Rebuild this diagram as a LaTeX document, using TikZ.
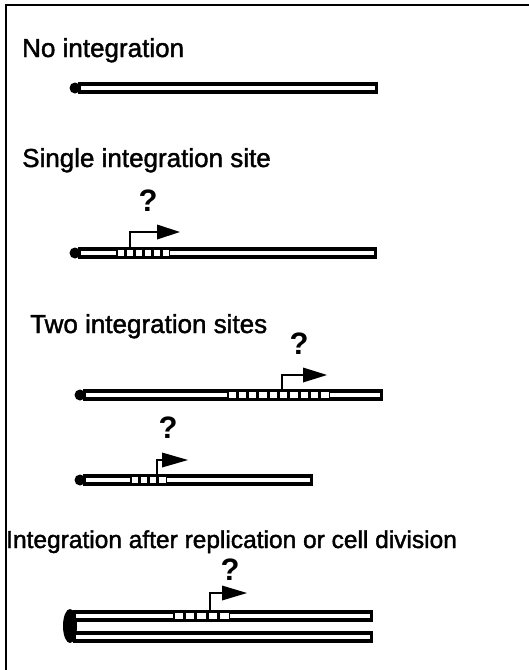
\documentclass[tikz,border=0pt]{standalone}
\usepackage{fontspec}
\setmainfont{Liberation Sans}
\newfontfamily\lblfont[FakeBold=1.6]{Liberation Sans}

% plain chromosome bar: #1 left x, #2 right x, #3 centre y
\newcommand\chrom[3]{%
  \fill[black] (#1,#3-5.8) rectangle (#2,#3+5.8);
  \fill[white] (#1+3,#3-2.2) rectangle (#2-3,#3+2.2);
}
% integrated segment: #1 from x, #2 to x, #3 centre y, #4 number of blocks
\newcommand\integ[4]{%
  \fill[black] (#1,#3-5.8) rectangle (#2,#3+5.8);
  \pgfmathsetmacro\blk{(#2-#1)/#4}
  \foreach \i in {1,...,#4}
    \fill[white] ({#1+(\i-1)*\blk+1.5},#3-2.6) rectangle ({#1+\i*\blk-1.5},#3+2.6);
}
% promoter arrow: #1 stem x, #2 top y, #3 head start x, #4 tip x, #5 bar centre y
\newcommand\prom[5]{%
  \draw[line width=2.6pt] (#1,#5-5) -- (#1,#2) -- (#3,#2);
  \fill[black] (#3,#2-7.5) -- (#4,#2) -- (#3,#2+7.5) -- cycle;
}

\begin{document}
\begin{tikzpicture}[x=1pt,y=-1pt,
  lbl/.style={anchor=base west,inner sep=0pt,font=\lblfont\fontsize{26}{30}\selectfont},
  qmark/.style={inner sep=0pt,font=\bfseries\fontsize{31}{34}\selectfont},
  frame/.style={line width=2.5pt}]
\useasboundingbox (0,0) rectangle (529,670);

% frame (left and top edges)
\draw[frame] (6,672) -- (6,5) -- (531,5);

% no integration
\node[lbl] (l1) at (22,57) {No integration};
\chrom{78}{378}{88}
\fill (75,88) circle (5.5);

% single integration site
\node[lbl] (l2) at (22,167) {Single integration site};
\chrom{78}{377}{253}
\integ{116}{170}{253}{6}
\fill (75,253) circle (5.5);
\prom{130}{232}{157}{180}{253}
\node[qmark] (q2) at (148,201) {?};

% two integration sites
\node[lbl] (l3) at (30,333) {Two integration sites};
\chrom{83}{383}{395}
\integ{227}{330}{395}{10}
\fill (80,395) circle (5.5);
\prom{282}{375}{303}{327}{395}
\node[qmark] (q3) at (299,344) {?};

\chrom{83}{313}{480}
\integ{130}{167}{480}{4}
\fill (80,480) circle (5.5);
\prom{157}{460}{162}{188}{480}
\node[qmark] (q4) at (168,428) {?};

% integration after replication or cell division
\node[lbl,font=\lblfont\fontsize{24.5}{28}\selectfont] (l4) at (6,548) {Integration after replication or cell division};
\chrom{73}{373}{616}
\chrom{73}{373}{637}
\integ{173}{230}{616}{5}
\fill (70,626) ellipse (7 and 17);
\prom{210}{593}{222}{247}{616}
\node[qmark] (q5) at (230,570) {?};
\end{tikzpicture}
\end{document}
